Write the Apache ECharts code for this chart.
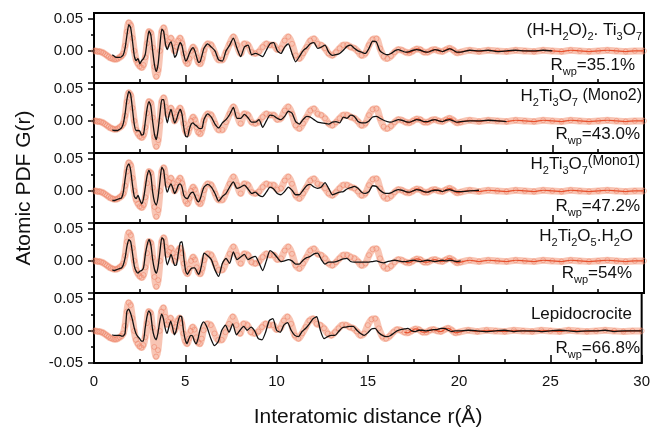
<!DOCTYPE html>
<html>
<head>
<meta charset="utf-8">
<script src="https://cdn.jsdelivr.net/npm/echarts@6/dist/echarts.min.js"></script>
<style>
html, body { margin: 0; padding: 0; background: #fff; }
#chart { width: 653px; height: 428px; }
</style>
</head>
<body>
<div id="chart"></div>
<script>
// r grid (Angstrom), 10 values per row
const rValues = [
  0.0, 0.1, 0.2, 0.3, 0.4, 0.5, 0.6, 0.7, 0.8, 0.9,
  1.0, 1.1, 1.2, 1.3, 1.4, 1.5, 1.6, 1.7, 1.8, 1.9,
  2.0, 2.1, 2.2, 2.3, 2.4, 2.5, 2.6, 2.7, 2.8, 2.9,
  3.0, 3.1, 3.2, 3.3, 3.4, 3.5, 3.6, 3.7, 3.8, 3.9,
  4.0, 4.1, 4.2, 4.3, 4.4, 4.5, 4.6, 4.7, 4.8, 4.9,
  5.0, 5.1, 5.2, 5.3, 5.4, 5.5, 5.6, 5.7, 5.8, 5.9,
  6.0, 6.2, 6.4, 6.6, 6.8, 7.0, 7.2, 7.4, 7.6, 7.8,
  8.0, 8.2, 8.4, 8.6, 8.8, 9.0, 9.2, 9.4, 9.6, 9.8,
  10.0, 10.2, 10.4, 10.6, 10.8, 11.0, 11.2, 11.4, 11.6, 11.8,
  12.0, 12.2, 12.4, 12.6, 12.8, 13.0, 13.2, 13.4, 13.6, 13.8,
  14.0, 14.2, 14.4, 14.6, 14.8, 15.0, 15.2, 15.4, 15.6, 15.8,
  16.0, 16.2, 16.4, 16.6, 16.8, 17.0, 17.2, 17.4, 17.6, 17.8,
  18.0, 18.2, 18.4, 18.6, 18.8, 19.0, 19.2, 19.4, 19.6, 19.8,
  20.0, 20.5, 21.0, 21.5, 22.0, 22.5, 23.0, 23.5, 24.0, 24.5,
  25.0, 25.5, 26.0, 26.5, 27.0, 27.5, 28.0, 28.5, 29.0, 29.5,
  30.0
];

// measured G(r), same data in every panel
const gObs = [
  0.000, 0.000, -0.001, -0.001, -0.002, -0.003, -0.005, -0.007, -0.009, -0.011,
  -0.012, -0.013, -0.013, -0.012, -0.010, -0.008, -0.004, 0.008, 0.030, 0.044,
  0.040, 0.020, 0.000, -0.014, -0.020, -0.024, -0.026, -0.022, -0.010, 0.012,
  0.030, 0.028, 0.005, -0.025, -0.040, -0.030, 0.000, 0.030, 0.036, 0.022,
  0.010, 0.014, 0.020, 0.012, 0.000, 0.006, 0.016, 0.020, 0.012, -0.004,
  -0.016, -0.020, -0.012, 0.000, 0.006, 0.002, -0.010, -0.018, -0.020, -0.012,
  0.001, 0.011, 0.009, -0.004, -0.014, -0.014, -0.002, 0.011, 0.022, 0.009,
  -0.004, 0.011, 0.009, -0.002, -0.004, -0.001, 0.006, 0.011, 0.009, 0.009,
  0.002, 0.004, 0.016, 0.022, 0.011, -0.007, -0.012, -0.004, 0.006, 0.016,
  0.019, 0.011, 0.009, 0.004, -0.004, -0.007, -0.002, 0.004, 0.009, 0.009,
  0.006, 0.004, -0.001, -0.007, -0.004, 0.009, 0.018, 0.019, 0.004, -0.009,
  -0.012, -0.008, -0.002, 0.002, 0.001, -0.002, -0.003, 0.000, 0.003, 0.002,
  -0.002, -0.002, 0.001, 0.002, 0.000, -0.001, 0.002, 0.004, 0.001, -0.003,
  -0.002, 0.001, -0.001, 0.001, 0.000, -0.001, 0.001, 0.000, -0.001, 0.001,
  0.000, -0.001, 0.001, 0.000, -0.001, 0.000, 0.001, 0.000, -0.001, 0.000,
  0.000
];

// fitted G(r) per model
const fitHydrated = [
  null, null, null, null, null, null, null, null, null, null,
  -0.006, -0.008, -0.010, -0.010, -0.010, -0.009, -0.006, 0.005, 0.025, 0.041,
  0.036, 0.015, -0.008, -0.015, -0.012, -0.020, -0.015, -0.012, -0.005, 0.015,
  0.031, 0.025, 0.000, -0.022, -0.032, -0.020, 0.010, 0.034, 0.030, 0.010,
  0.002, 0.010, 0.014, 0.004, -0.010, -0.006, 0.006, 0.013, 0.008, -0.006,
  -0.016, -0.012, -0.004, 0.002, 0.005, 0.000, -0.010, -0.018, -0.016, -0.006,
  0.004, 0.011, 0.006, 0.000, -0.014, -0.016, 0.000, 0.009, 0.020, 0.004,
  -0.009, 0.006, 0.009, -0.006, -0.004, -0.006, -0.009, 0.001, 0.011, 0.013,
  0.000, -0.004, 0.006, 0.011, -0.004, -0.017, -0.009, 0.000, 0.005, 0.011,
  0.013, 0.004, 0.006, 0.009, -0.002, -0.007, -0.006, -0.004, 0.001, 0.007,
  0.009, 0.004, 0.000, -0.002, -0.004, 0.004, 0.015, 0.014, 0.000, -0.004,
  -0.006, -0.004, 0.000, 0.002, 0.000, -0.002, -0.001, 0.001, 0.002, 0.001,
  -0.001, -0.002, 0.000, 0.002, 0.001, -0.001, 0.001, 0.003, 0.001, -0.002,
  -0.002, 0.001, 0.000, 0.001, -0.001, 0.000, 0.001, 0.000, 0.000, 0.001,
  0.000, null, null, null, null, null, null, null, null, null,
  null
];
const fitMono2 = [
  null, null, null, null, null, null, null, null, null, null,
  -0.014, -0.015, -0.015, -0.015, -0.013, -0.011, -0.004, 0.012, 0.034, 0.046,
  0.041, 0.018, -0.006, -0.015, -0.015, -0.016, -0.022, -0.021, -0.001, 0.020,
  0.030, 0.023, -0.001, -0.021, -0.029, -0.013, 0.012, 0.033, 0.033, 0.010,
  -0.003, 0.010, 0.018, 0.007, -0.003, 0.002, 0.012, 0.018, 0.010, -0.011,
  -0.024, -0.025, -0.013, -0.005, -0.003, -0.006, -0.008, -0.011, -0.012, -0.011,
  0.002, 0.011, 0.006, -0.005, -0.011, -0.003, 0.002, 0.010, 0.021, 0.004,
  0.004, 0.010, 0.005, -0.002, -0.002, 0.002, -0.010, 0.000, 0.009, 0.008,
  0.004, 0.002, 0.007, 0.015, 0.012, -0.001, -0.005, 0.002, 0.007, 0.006,
  0.002, -0.002, -0.003, -0.004, -0.005, -0.002, -0.001, -0.003, 0.006, 0.004,
  0.009, 0.007, -0.001, -0.003, -0.003, 0.000, 0.006, 0.007, 0.004, 0.001,
  -0.001, -0.002, 0.000, 0.002, 0.001, -0.001, -0.002, 0.000, 0.002, 0.001,
  -0.001, -0.001, 0.001, 0.002, 0.000, -0.001, 0.001, 0.002, 0.000, -0.002,
  -0.001, 0.000, 0.000, 0.001, 0.000, -0.001, null, null, null, null,
  null, null, null, null, null, null, null, null, null, null,
  null
];
const fitMono1 = [
  null, null, null, null, null, null, null, null, null, null,
  -0.015, -0.015, -0.014, -0.013, -0.012, -0.011, -0.002, 0.019, 0.037, 0.042,
  0.032, 0.009, -0.009, -0.012, -0.007, -0.014, -0.020, -0.012, 0.006, 0.024,
  0.032, 0.024, -0.002, -0.017, -0.022, -0.009, 0.016, 0.037, 0.032, 0.009,
  -0.002, 0.006, 0.011, 0.004, -0.004, 0.001, 0.009, 0.011, 0.006, -0.007,
  -0.011, -0.012, -0.007, -0.003, -0.002, -0.007, -0.014, -0.017, -0.012, -0.002,
  0.006, 0.010, 0.006, -0.004, -0.016, -0.009, -0.004, 0.006, 0.014, 0.004,
  0.006, 0.009, 0.003, -0.004, -0.002, -0.007, -0.009, -0.002, 0.006, 0.003,
  -0.004, -0.006, -0.001, 0.006, 0.001, -0.006, -0.006, 0.001, 0.008, 0.010,
  0.006, 0.004, 0.006, 0.013, 0.004, -0.006, -0.004, -0.002, -0.001, 0.003,
  0.005, 0.007, 0.004, -0.002, -0.004, -0.001, 0.008, 0.007, 0.001, -0.003,
  -0.004, -0.003, 0.000, 0.002, 0.001, -0.001, -0.002, 0.000, 0.002, 0.001,
  -0.001, -0.002, 0.000, 0.001, 0.001, -0.001, 0.001, 0.002, 0.000, -0.001,
  -0.001, 0.000, 0.001, null, null, null, null, null, null, null,
  null, null, null, null, null, null, null, null, null, null,
  null
];
const fitH2Ti2O5 = [
  null, null, null, null, null, null, null, null, null, null,
  -0.014, -0.015, -0.014, -0.013, -0.012, -0.011, -0.006, 0.005, 0.023, 0.033,
  0.030, 0.012, -0.008, -0.016, -0.019, -0.016, -0.015, -0.011, 0.010, 0.025,
  0.033, 0.025, 0.002, -0.013, -0.019, -0.008, 0.015, 0.036, 0.033, 0.007,
  -0.006, 0.002, 0.010, 0.002, -0.007, -0.006, 0.012, 0.028, 0.030, 0.005,
  -0.016, -0.021, -0.016, -0.012, -0.011, -0.011, -0.016, -0.021, -0.015, -0.002,
  0.012, 0.008, 0.002, -0.014, -0.024, -0.004, 0.004, -0.004, 0.014, 0.002,
  0.006, 0.010, 0.002, 0.005, 0.007, -0.003, -0.015, 0.000, 0.016, 0.012,
  0.005, -0.001, 0.000, 0.002, 0.000, -0.005, -0.005, 0.001, 0.005, 0.007,
  0.011, 0.012, 0.002, -0.005, -0.002, -0.002, -0.001, 0.001, 0.003, 0.004,
  -0.001, -0.002, -0.002, -0.002, -0.002, -0.002, -0.001, 0.000, -0.002, -0.003,
  -0.001, 0.000, 0.001, 0.000, -0.001, -0.001, 0.000, 0.001, 0.000, -0.001,
  0.000, 0.001, 0.000, -0.001, 0.000, 0.001, 0.000, 0.001, 0.000, -0.001,
  0.000, null, null, null, null, null, null, null, null, null,
  null, null, null, null, null, null, null, null, null, null,
  null
];
const fitLepido = [
  null, null, null, null, null, null, null, null, null, null,
  -0.006, -0.007, -0.007, -0.007, -0.007, -0.008, -0.008, -0.004, 0.030, 0.034,
  0.028, 0.018, 0.005, -0.004, -0.009, -0.012, -0.016, -0.016, 0.004, 0.022,
  0.031, 0.027, 0.004, -0.009, -0.014, -0.004, 0.014, 0.026, 0.019, 0.004,
  -0.004, 0.006, 0.015, 0.006, -0.006, 0.000, 0.014, 0.023, 0.022, 0.001,
  -0.014, -0.020, -0.012, -0.007, -0.008, -0.016, -0.020, -0.012, 0.001, 0.010,
  0.014, 0.005, -0.012, -0.023, -0.017, 0.001, 0.009, -0.002, 0.011, -0.006,
  0.001, 0.007, 0.001, 0.006, 0.000, -0.012, -0.014, -0.002, 0.016, 0.019,
  0.001, -0.002, 0.009, 0.013, 0.001, -0.007, -0.009, -0.001, 0.004, 0.011,
  0.019, 0.022, 0.001, -0.012, -0.009, -0.007, -0.007, -0.001, 0.005, 0.006,
  0.007, 0.007, 0.001, -0.004, -0.007, -0.003, 0.003, 0.004, -0.003, -0.007,
  -0.009, -0.008, -0.004, 0.000, 0.002, 0.003, 0.004, 0.000, -0.001, 0.001,
  0.001, 0.000, 0.001, 0.002, 0.002, 0.004, 0.004, 0.001, -0.001, 0.000,
  0.000, 0.001, 0.000, -0.001, 0.000, 0.001, -0.001, 0.000, 0.000, -0.001,
  0.000, 0.001, 0.000, -0.001, 0.000, 0.000, 0.001, -0.001, 0.000, 0.000,
  0.000
];

const modelFits = [fitHydrated, fitMono2, fitMono1, fitH2Ti2O5, fitLepido];
const phaseNames = [
  '{n|(H-H}{s|2}{n|O)}{s|2}{n|. Ti}{s|3}{n|O}{s|7}',
  '{n|H}{s|2}{n|Ti}{s|3}{n|O}{s|7}{m| (Mono2)}',
  '{n|H}{s|2}{n|Ti}{s|3}{n|O}{s|7}{u|(Mono1)}',
  '{n|H}{s|2}{n|Ti}{s|2}{n|O}{s|5}{n|.H}{s|2}{n|O}',
  '{n|Lepidocrocite}'
];
const rwpValues = ['35.1%', '43.0%', '47.2%', '54%', '66.8%'];
const yMajorTicks = [-0.05, 0, 0.05];
const yMinorTicks = [-0.025, 0.025];

const FONT = '"Liberation Sans", Arial, sans-serif';
const TOP = 13, PANEL_H = 70, LEFT = 94, RIGHT = 9;
const Y_MIN = -0.05, Y_MAX = 0.059;
const INK = '#000';

const chart = echarts.init(document.getElementById('chart'));

const toPairs = (arr) => rValues.map((r, i) => [r, arr[i]]).filter(p => p[1] !== null);
const obsPairs = toPairs(gObs);
const obsTail = obsPairs.filter(p => p[0] >= 17);

const grids = [], xAxes = [], yAxes = [], series = [], graphics = [];

modelFits.forEach((fit, i) => {
  const last = i === modelFits.length - 1;
  const top = TOP + PANEL_H * i;
  grids.push({ left: LEFT, right: RIGHT, top: top, height: PANEL_H,
    show: true, borderColor: INK, borderWidth: 2, backgroundColor: 'transparent' });
  xAxes.push({
    gridIndex: i, type: 'value', min: 0, max: 30, interval: 5, position: 'bottom',
    axisLine: { show: true, onZero: false, lineStyle: { color: INK, width: 2 } },
    axisTick: { show: true, inside: true, length: 8, lineStyle: { color: INK, width: 1.5 } },
    minorTick: { show: true, splitNumber: 2, length: 4, lineStyle: { color: INK, width: 1.5 } },
    axisLabel: { show: last, fontSize: 15, fontFamily: FONT, color: '#111', margin: 11 },
    splitLine: { show: false }
  });
  yAxes.push({
    gridIndex: i, type: 'value', min: Y_MIN, max: Y_MAX, position: 'left',
    axisLine: { show: true, onZero: false, lineStyle: { color: INK, width: 2 } },
    axisTick: { show: true, length: 6, customValues: yMajorTicks, lineStyle: { color: INK, width: 1.5 } },
    axisLabel: {
      customValues: last ? yMajorTicks : yMajorTicks.slice(1),
      formatter: v => v.toFixed(2), fontSize: 15, fontFamily: FONT, color: '#111', margin: 11
    },
    splitLine: { show: false }
  });
  yAxes.push({
    gridIndex: i, type: 'value', min: Y_MIN, max: Y_MAX, position: 'left',
    axisLine: { show: false, onZero: false },
    axisTick: { show: true, length: 3, customValues: yMinorTicks, lineStyle: { color: INK, width: 1.5 } },
    axisLabel: { show: false },
    splitLine: { show: false }
  });

  // measured data: light salmon band of open circles
  series.push({
    type: 'line', xAxisIndex: i, yAxisIndex: 2 * i, data: obsPairs,
    smooth: 0.3, symbol: 'circle', symbolSize: 5, showSymbol: true, showAllSymbol: true,
    itemStyle: { color: 'rgba(255,255,255,0)', borderColor: 'rgba(236,120,90,0.45)', borderWidth: 1 },
    lineStyle: { color: 'rgba(243,150,118,0.55)', width: 7 },
    silent: true, z: 2
  });
  series.push({
    type: 'line', xAxisIndex: i, yAxisIndex: 2 * i, data: obsTail,
    smooth: 0.3, symbol: 'none',
    lineStyle: { color: '#e6502d', width: 1.2 },
    silent: true, z: 3
  });
  series.push({
    type: 'line', xAxisIndex: i, yAxisIndex: 2 * i, data: toPairs(fit),
    smooth: 0.2, symbol: 'none',
    lineStyle: { color: '#111', width: 1.3 },
    silent: true, z: 4
  });
});

const rich = {
  n: { fontSize: 17, fontFamily: FONT, fill: '#111' },
  s: { fontSize: 11, fontFamily: FONT, fill: '#111', padding: [13, 0, 0, 0] },
  m: { fontSize: 16, fontFamily: FONT, fill: '#111' },
  u: { fontSize: 14, fontFamily: FONT, fill: '#111', padding: [0, 0, 6, 0] }
};
const nameY = [30, 96, 164, 236, 314];
const nameX = [642, 642, 640, 633, 632];
const rwpY = [65.5, 134, 206, 273, 348];
const rwpX = [635, 640, 640, 632, 640];

phaseNames.forEach((txt, i) => {
  graphics.push({ type: 'text', x: nameX[i], y: nameY[i], z: 10,
    style: { text: txt, rich: rich, font: '17px ' + FONT, fill: '#111', textAlign: 'right', textVerticalAlign: 'middle' } });
  graphics.push({ type: 'text', x: rwpX[i], y: rwpY[i], z: 10,
    style: { text: '{n|R}{s|wp}{n|=' + rwpValues[i] + '}', rich: rich, font: '17px ' + FONT, fill: '#111',
      textAlign: 'right', textVerticalAlign: 'middle' } });
});

graphics.push({ type: 'text', x: 24, y: 188, rotation: Math.PI / 2,
  style: { text: 'Atomic PDF G(r)', font: '21px ' + FONT, fill: '#111', textAlign: 'center', textVerticalAlign: 'middle' } });
graphics.push({ type: 'text', x: 368, y: 417,
  style: { text: 'Interatomic distance r(Å)', font: '21px ' + FONT, fill: '#111', textAlign: 'center', textVerticalAlign: 'middle' } });

chart.setOption({
  animation: false,
  backgroundColor: '#fff',
  grid: grids,
  xAxis: xAxes,
  yAxis: yAxes,
  series: series,
  graphic: graphics
});
</script>
</body>
</html>
